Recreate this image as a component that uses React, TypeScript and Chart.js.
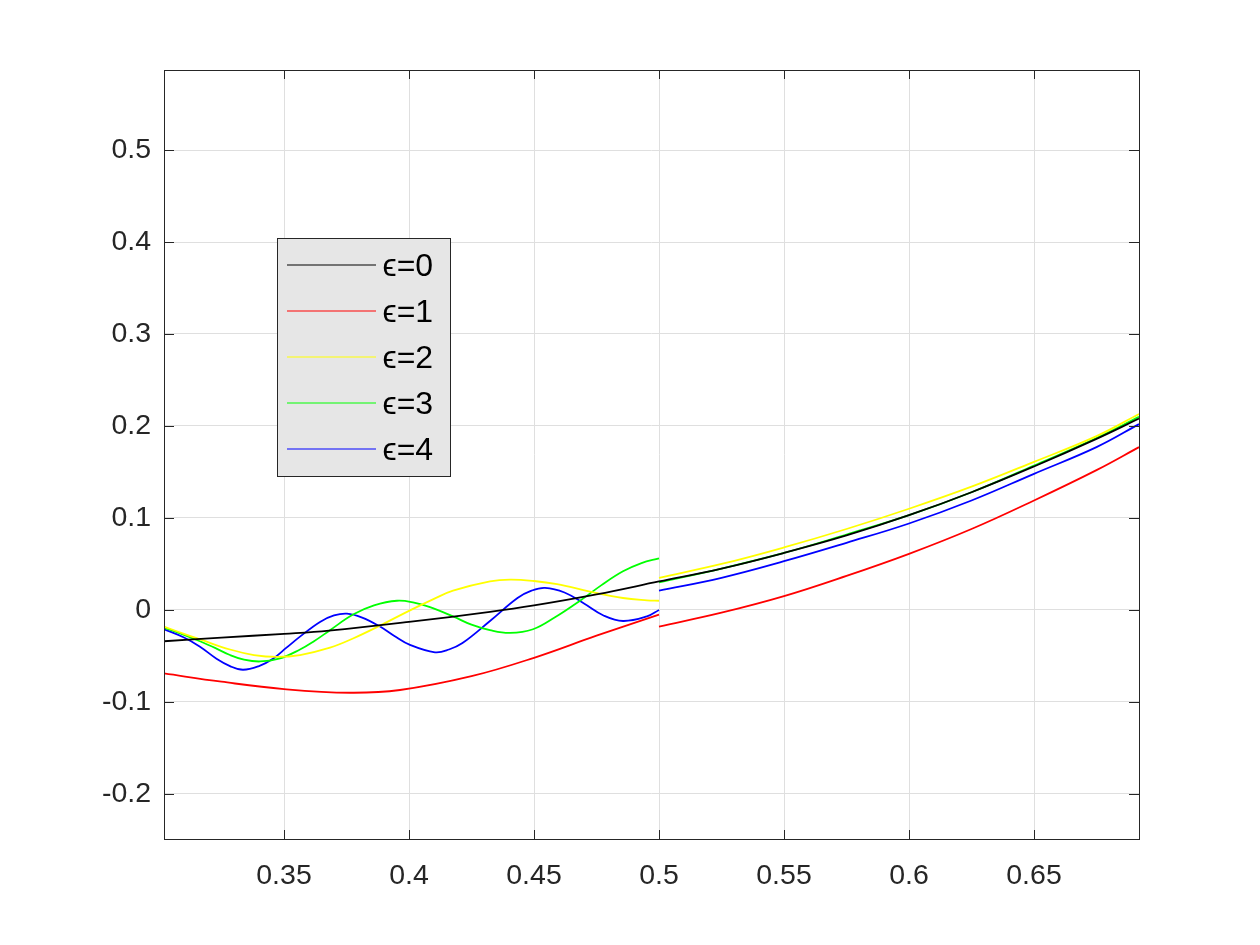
import React, { useEffect, useRef } from "react";
import { Chart, registerables } from "chart.js";

Chart.register(...registerables);

// ---- axis setup ----
const xTicks = [0.35, 0.4, 0.45, 0.5, 0.55, 0.6, 0.65];
const yTicks = [-0.2, -0.1, 0, 0.1, 0.2, 0.3, 0.4, 0.5];
const xRange = [0.302, 0.692];
const yRange = [-0.249, 0.587];

// ---- series ----
const seriesLabels = ["\u03F5=0", "\u03F5=1", "\u03F5=2", "\u03F5=3", "\u03F5=4"];
const seriesColors = ["#000000", "#ff0000", "#ffff00", "#00ff00", "#0000ff"];

// ε=0 (left branch, gap, right branch)
const eps0X = [0.302, 0.325, 0.35, 0.368, 0.4, 0.4324, 0.45, 0.475, 0.5, 0.5, 0.5, 0.525, 0.55, 0.575, 0.6, 0.625, 0.65, 0.675, 0.692];
const eps0Y = [-0.034, -0.03, -0.026, -0.0225, -0.013, -0.002, 0.005, 0.017, 0.031, null, 0.031, 0.045, 0.062, 0.081, 0.103, 0.128, 0.156, 0.186, 0.208];

// ε=1
const eps1X = [0.302, 0.325, 0.35, 0.3764, 0.3964, 0.425, 0.45, 0.475, 0.5, 0.5, 0.5, 0.525, 0.55, 0.575, 0.6, 0.625, 0.65, 0.675, 0.692];
const eps1Y = [-0.069, -0.078, -0.086, -0.09, -0.087, -0.072, -0.052, -0.028, -0.005, null, -0.018, -0.003, 0.015, 0.037, 0.061, 0.088, 0.119, 0.152, 0.177];

// ε=2
const eps2X = [0.302, 0.31, 0.3164, 0.3284, 0.338, 0.3472, 0.3564, 0.3684, 0.3776, 0.3884, 0.4, 0.41, 0.4176, 0.4324, 0.4404, 0.45, 0.4592, 0.4724, 0.4856, 0.4952, 0.5, 0.5, 0.5, 0.525, 0.55, 0.575, 0.6, 0.625, 0.65, 0.675, 0.692];
const eps2Y = [-0.018, -0.026, -0.032, -0.043, -0.049, -0.051, -0.049, -0.041, -0.031, -0.017, -0.001, 0.012, 0.021, 0.031, 0.033, 0.0315, 0.028, 0.02, 0.013, 0.0105, 0.01, null, 0.035, 0.05, 0.068, 0.088, 0.11, 0.134, 0.161, 0.189, 0.213];

// ε=3
const eps3X = [0.302, 0.31, 0.3164, 0.323, 0.3284, 0.334, 0.3404, 0.348, 0.3564, 0.362, 0.3684, 0.3776, 0.386, 0.3952, 0.402, 0.4084, 0.4176, 0.425, 0.4324, 0.4404, 0.4496, 0.4584, 0.4684, 0.477, 0.4856, 0.493, 0.5, 0.5, 0.5, 0.525, 0.55, 0.575, 0.6, 0.625, 0.65, 0.675, 0.692];
const eps3Y = [-0.019, -0.027, -0.034, -0.042, -0.049, -0.054, -0.056, -0.053, -0.043, -0.034, -0.022, -0.005, 0.005, 0.01, 0.008, 0.003, -0.007, -0.016, -0.022, -0.025, -0.021, -0.008, 0.01, 0.027, 0.042, 0.051, 0.056, null, 0.03, 0.045, 0.062, 0.082, 0.103, 0.128, 0.157, 0.187, 0.21];

// ε=4
const eps4X = [0.302, 0.31, 0.3164, 0.323, 0.3284, 0.3336, 0.34, 0.3456, 0.351, 0.3564, 0.3644, 0.37, 0.3752, 0.381, 0.3884, 0.394, 0.4004, 0.4104, 0.416, 0.4214, 0.4324, 0.4434, 0.449, 0.4544, 0.4622, 0.47, 0.4778, 0.4856, 0.4952, 0.5, 0.5, 0.5, 0.525, 0.55, 0.575, 0.6, 0.625, 0.65, 0.675, 0.692];
const eps4Y = [-0.021, -0.03, -0.04, -0.053, -0.061, -0.065, -0.061, -0.053, -0.041, -0.029, -0.013, -0.006, -0.004, -0.008, -0.018, -0.028, -0.038, -0.046, -0.043, -0.036, -0.012, 0.013, 0.021, 0.024, 0.019, 0.007, -0.006, -0.012, -0.007, 0.0, null, 0.021, 0.035, 0.053, 0.073, 0.094, 0.119, 0.148, 0.177, 0.202];

const seriesX = [eps0X, eps1X, eps2X, eps3X, eps4X];
const seriesY = [eps0Y, eps1Y, eps2Y, eps3Y, eps4Y];

const FONT = "'Liberation Sans', Arial, Helvetica, sans-serif";
const AXIS_COLOR = "#262626";
const GRID_COLOR = "#dfdfdf";

const framePlugin = {
  id: "matlabFrame",
  afterDatasetsDraw(chart: any) {
    const { ctx, chartArea } = chart;
    const { left, right, top, bottom } = chartArea;
    const xs = chart.scales.x;
    const ys = chart.scales.y;
    ctx.save();
    ctx.strokeStyle = AXIS_COLOR;
    ctx.lineWidth = 1;
    ctx.beginPath();
    xTicks.forEach((v) => {
      const px = Math.round(xs.getPixelForValue(v)) + 0.5;
      ctx.moveTo(px, bottom);
      ctx.lineTo(px, bottom - 9);
      ctx.moveTo(px, top);
      ctx.lineTo(px, top + 9);
    });
    yTicks.forEach((v) => {
      const py = Math.round(ys.getPixelForValue(v)) + 0.5;
      ctx.moveTo(left, py);
      ctx.lineTo(left + 10, py);
      ctx.moveTo(right, py);
      ctx.lineTo(right - 10, py);
    });
    ctx.stroke();
    ctx.strokeRect(Math.round(left) + 0.5, Math.round(top) + 0.5, Math.round(right - left), Math.round(bottom - top));
    ctx.restore();
  },
  afterDraw(chart: any) {
    const { ctx, chartArea } = chart;
    const bx = Math.round(chartArea.left) + 113.5;
    const by = Math.round(chartArea.top) + 168.5;
    const bw = 173;
    const bh = 238;
    ctx.save();
    ctx.fillStyle = "#e6e6e6";
    ctx.fillRect(bx, by, bw, bh);
    ctx.strokeStyle = AXIS_COLOR;
    ctx.lineWidth = 1;
    ctx.strokeRect(bx, by, bw, bh);
    chart.data.datasets.forEach((ds: any, i: number) => {
      const ly = by + 26.5 + i * 46;
      ctx.strokeStyle = ds.borderColor;
      ctx.lineWidth = 1.2;
      ctx.beginPath();
      ctx.moveTo(bx + 9.5, ly);
      ctx.lineTo(bx + 98.5, ly);
      ctx.stroke();
      ctx.fillStyle = "#000000";
      ctx.font = `32px ${FONT}`;
      ctx.textBaseline = "middle";
      ctx.textAlign = "left";
      ctx.fillText(ds.label, bx + 105, ly + 2);
    });
    ctx.restore();
  },
};

export default function App() {
  const canvasRef = useRef<HTMLCanvasElement | null>(null);

  useEffect(() => {
    if (!canvasRef.current) return;
    const datasets = seriesLabels.map((label, i) => ({
      label,
      data: seriesX[i].map((x, j) => ({ x, y: seriesY[i][j] })),
      borderColor: seriesColors[i],
      backgroundColor: seriesColors[i],
      borderWidth: 1.8,
      pointRadius: 0,
      fill: false,
      tension: 0.4,
      spanGaps: false,
    }));
    const chart = new Chart(canvasRef.current, {
      type: "line",
      data: { datasets },
      options: {
        animation: false,
        responsive: true,
        maintainAspectRatio: false,
        parsing: false as any,
        normalized: true,
        layout: { padding: { left: 0, top: 70, right: 121, bottom: 0 } },
        plugins: { legend: { display: false }, tooltip: { enabled: false } },
        scales: {
          x: {
            type: "linear",
            min: xRange[0],
            max: xRange[1],
            afterBuildTicks: (scale: any) => {
              scale.ticks = xTicks.map((value) => ({ value }));
            },
            afterFit: (scale: any) => {
              scale.height = 106;
            },
            grid: { color: GRID_COLOR, lineWidth: 1, drawTicks: false },
            border: { display: false },
            ticks: {
              color: AXIS_COLOR,
              font: { family: FONT, size: 28.5 },
              padding: 20,
              maxRotation: 0,
              autoSkip: false,
              callback: (v: any) => String(Number(Number(v).toFixed(2))),
            },
          },
          y: {
            type: "linear",
            min: yRange[0],
            max: yRange[1],
            afterBuildTicks: (scale: any) => {
              scale.ticks = yTicks.map((value) => ({ value }));
            },
            afterFit: (scale: any) => {
              scale.width = 164;
            },
            grid: { color: GRID_COLOR, lineWidth: 1, drawTicks: false },
            border: { display: false },
            ticks: {
              color: AXIS_COLOR,
              font: { family: FONT, size: 28.5 },
              padding: 13,
              autoSkip: false,
              callback: (v: any) => String(Number(Number(v).toFixed(2))),
            },
          },
        },
      },
      plugins: [framePlugin],
    });
    return () => chart.destroy();
  }, []);

  return (
    <div style={{ position: "absolute", left: 0, top: 0, width: 1260, height: 945, background: "#ffffff" }}>
      <canvas ref={canvasRef} />
    </div>
  );
}
